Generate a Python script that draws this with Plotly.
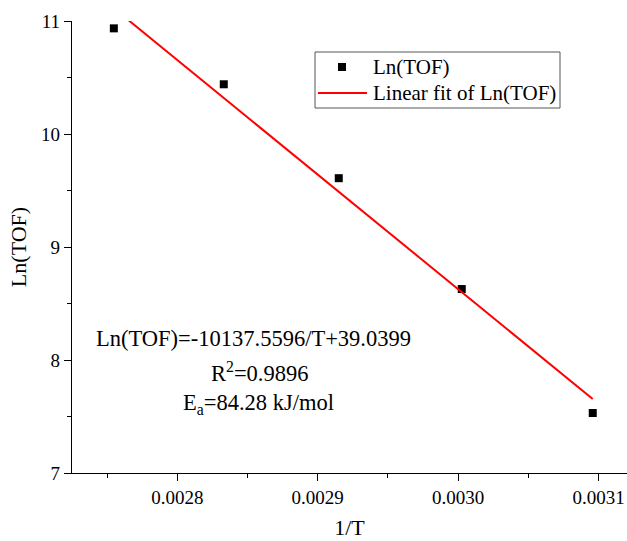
import plotly.graph_objects as go

# Arrhenius data: inverse temperature vs ln(TOF)
inv_T = [0.0027548, 0.0028331, 0.0029150, 0.0030026, 0.0030959]
ln_tof = [10.935, 10.44, 9.609, 8.628, 7.531]

# Linear fit parameters
slope = -10137.5596
intercept = 39.0399
r_squared = 0.9896
ea_kj = 84.28

x_ticks = [0.0028, 0.0029, 0.0030, 0.0031]
y_ticks = [7, 8, 9, 10, 11]

series_names = ["Ln(TOF)", "Linear fit of Ln(TOF)"]

fit_x = [min(inv_T), max(inv_T)]
fit_y = [slope * x + intercept for x in fit_x]

FONT = "Liberation Serif"
MARKER_SIZE = 8
FIT_COLOR = "red"

fig = go.Figure()
fig.add_trace(go.Scatter(
    x=inv_T, y=ln_tof, mode="markers", name=series_names[0], showlegend=False,
    marker=dict(symbol="square", size=MARKER_SIZE, color="black"),
))
fig.add_trace(go.Scatter(
    x=fit_x, y=fit_y, mode="lines", name=series_names[1], showlegend=False,
    line=dict(color=FIT_COLOR, width=2),
))

axis_common = dict(
    showgrid=False, zeroline=False, showline=True, linecolor="black", linewidth=1.3,
    ticks="outside", ticklen=7, tickwidth=1.3, tickcolor="black",
    tickfont=dict(family=FONT, size=19, color="black"),
    mirror=False,
)

fig.update_xaxes(
    range=[0.002725, 0.0031203], tickvals=x_ticks,
    ticktext=[f"{v:.4f}" for v in x_ticks],
    minor=dict(ticks="outside", ticklen=4, tickwidth=1.3, tickcolor="black", dtick=0.00005),
    title=dict(text="1/T", font=dict(family=FONT, size=22, color="black"), standoff=12),
    **axis_common,
)
fig.update_yaxes(
    range=[7, 11], tickvals=y_ticks, ticktext=[str(v) for v in y_ticks],
    minor=dict(ticks="outside", ticklen=4, tickwidth=1.3, tickcolor="black", dtick=0.5),
    title=dict(text="Ln(TOF)", font=dict(family=FONT, size=22, color="black"), standoff=8),
    **axis_common,
)

# Pixel helpers for the 627x541 canvas (plot area 72..627 x 21..473)
def px(xpix):
    return (xpix - 72) / 555

def py(ypix):
    return (473 - ypix) / 452

# Fit equation text block
ann_font = dict(family=FONT, size=22.5, color="black")
fig.add_annotation(xref="paper", yref="paper", x=px(253.5), y=py(338), xanchor="center", yanchor="middle",
                   text=f"Ln(TOF)={slope:.4f}/T+{intercept:.4f}", showarrow=False, font=ann_font)
fig.add_annotation(xref="paper", yref="paper", x=px(259), y=py(372), xanchor="center", yanchor="middle",
                   text=f"R<sup>2</sup>={r_squared:.4f}", showarrow=False, font=ann_font)
fig.add_annotation(xref="paper", yref="paper", x=px(258.5), y=py(404), xanchor="center", yanchor="middle",
                   text=f"E<sub>a</sub>={ea_kj:.2f} kJ/mol", showarrow=False, font=ann_font)

# Legend box
legend_font = dict(family=FONT, size=21, color="black")
fig.add_shape(type="rect", xref="paper", yref="paper",
              x0=px(315), x1=px(560), y0=py(52), y1=py(108),
              line=dict(color="#555555", width=1), fillcolor="white", layer="below")
fig.add_shape(type="rect", xref="paper", yref="paper",
              x0=px(338), x1=px(346), y0=py(63), y1=py(71),
              line=dict(width=0), fillcolor="black")
fig.add_shape(type="line", xref="paper", yref="paper",
              x0=px(318), x1=px(367), y0=py(93), y1=py(93),
              line=dict(color=FIT_COLOR, width=2))
fig.add_annotation(xref="paper", yref="paper", x=px(371), y=py(67), xanchor="left", yanchor="middle",
                   text=series_names[0], showarrow=False, font=legend_font)
fig.add_annotation(xref="paper", yref="paper", x=px(371), y=py(93), xanchor="left", yanchor="middle",
                   text=series_names[1], showarrow=False, font=legend_font)

fig.update_layout(
    width=627, height=541,
    margin=dict(l=72, r=0, t=21, b=68),
    plot_bgcolor="white", paper_bgcolor="white",
    showlegend=False,
)

fig.write_html("out.html")
